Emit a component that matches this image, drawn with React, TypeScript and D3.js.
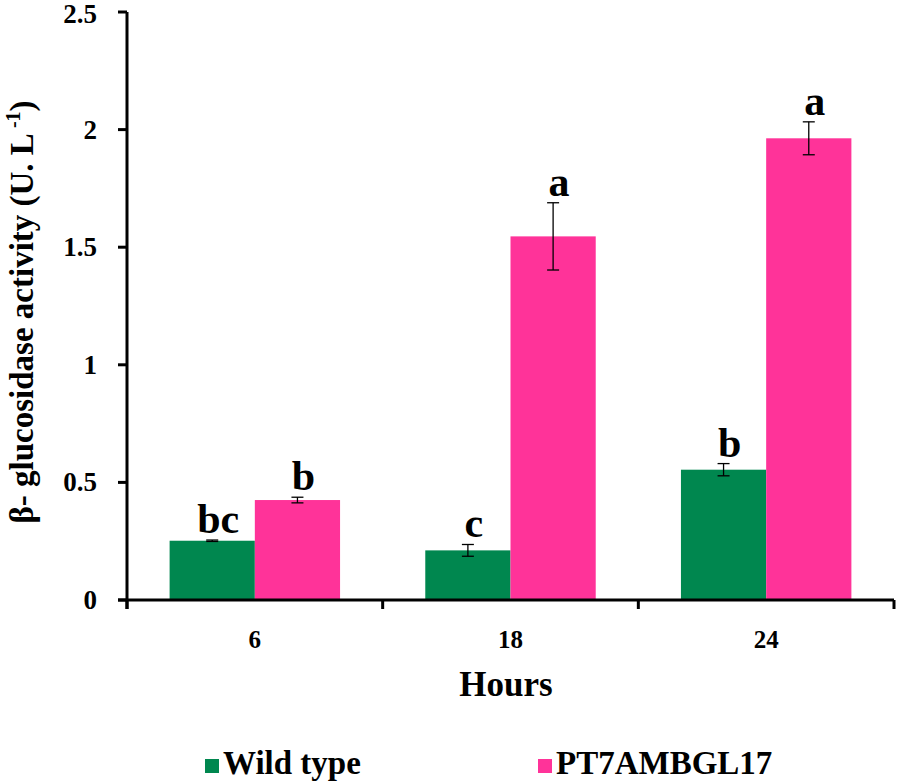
import React from "react";
import * as d3 from "d3";

const categories = ["6", "18", "24"];
const seriesNames = ["Wild type", "PT7AMBGL17"];
const wildType = [0.252, 0.211, 0.554];
const wildTypeErr = [0.003, 0.025, 0.026];
const pt7 = [0.425, 1.546, 1.963];
const pt7Err = [0.012, 0.143, 0.07];
const wildLetters = ["bc", "c", "b"];
const pt7Letters = ["b", "a", "a"];
const yTicks = [0, 0.5, 1, 1.5, 2, 2.5];
const yTickLabels = ["0", "0.5", "1", "1.5", "2", "2.5"];

const colors = ["#00874F", "#FF3399"];
const FONT = "'Liberation Serif', 'Times New Roman', serif";

export default function App() {
  const W = 898, H = 783;
  const x0 = 127, x1 = 894, yTop = 12, yBase = 600;
  const x = d3.scaleBand<string>().domain(categories).range([x0, x1]).paddingInner(0).paddingOuter(0);
  const inner = d3.scaleBand<string>().domain(seriesNames).range([0, x.bandwidth()]).paddingInner(0).paddingOuter(0.5);
  const y = d3.scaleLinear().domain([0, 2.5]).range([yBase, yTop]);
  const series = [
    { name: seriesNames[0], vals: wildType, errs: wildTypeErr, letters: wildLetters },
    { name: seriesNames[1], vals: pt7, errs: pt7Err, letters: pt7Letters },
  ];
  const boundaries = [...categories.map((c) => x(c) as number), x1];
  return (
    <svg width={W} height={H} style={{ position: "absolute", left: 0, top: 0 }} fontFamily={FONT}>
      <rect width={W} height={H} fill="#fff" />
      {series.map((s, si) =>
        categories.map((c, ci) => {
          const bx = (x(c) as number) + (inner(s.name) as number);
          const bw = inner.bandwidth();
          const cx = bx + bw / 2;
          const v = s.vals[ci];
          const e = s.errs[ci];
          return (
            <g key={si + "-" + ci}>
              <rect x={bx} y={y(v)} width={bw} height={yBase - y(v)} fill={colors[si]} />
              <line x1={cx} x2={cx} y1={y(v + e)} y2={y(v - e)} stroke="#000" strokeWidth={1.3} />
              <line x1={cx - 6} x2={cx + 6} y1={y(v + e)} y2={y(v + e)} stroke="#000" strokeWidth={1.3} />
              <line x1={cx - 6} x2={cx + 6} y1={y(v - e)} y2={y(v - e)} stroke="#000" strokeWidth={1.3} />
              <text x={cx + 6} y={y(v + e) - 7} textAnchor="middle" fontWeight="bold" fontSize={42}>
                {s.letters[ci]}
              </text>
            </g>
          );
        })
      )}
      {/* y axis */}
      <line x1={x0} x2={x0} y1={yTop} y2={yBase + 9} stroke="#000" strokeWidth={3} />
      {yTicks.map((t, i) => (
        <g key={t}>
          <line x1={x0 - 9} x2={x0} y1={y(t)} y2={y(t)} stroke="#000" strokeWidth={3} />
          <text x={97} y={Math.max(y(t) + 9, 23)} textAnchor="end" fontWeight="bold" fontSize={27}>
            {yTickLabels[i]}
          </text>
        </g>
      ))}
      {/* x axis */}
      <line x1={x0 - 9} x2={x1} y1={yBase} y2={yBase} stroke="#000" strokeWidth={3} />
      {boundaries.map((b, i) => (
        <line key={i} x1={b} x2={b} y1={yBase} y2={yBase + 9} stroke="#000" strokeWidth={3} />
      ))}
      {categories.map((c) => (
        <text key={c} x={(x(c) as number) + x.bandwidth() / 2} y={648} textAnchor="middle" fontWeight="bold" fontSize={25}>
          {c}
        </text>
      ))}
      <text x={506} y={696} textAnchor="middle" fontWeight="bold" fontSize={35}>
        Hours
      </text>
      <text transform="translate(33,312) rotate(-90)" textAnchor="middle" fontWeight="bold" fontSize={33}>
        β- glucosidase activity (U. L
        <tspan fontSize={20} dy={-13}> -1</tspan>
        <tspan dy={13}>)</tspan>
      </text>
      {/* legend */}
      {series.map((s, si) => {
        const lx = si === 0 ? 205 : 538;
        return (
          <g key={s.name}>
            <rect x={lx} y={759} width={14} height={14} fill={colors[si]} />
            <text x={lx + 18} y={774} fontWeight="bold" fontSize={33}>
              {s.name}
            </text>
          </g>
        );
      })}
    </svg>
  );
}
